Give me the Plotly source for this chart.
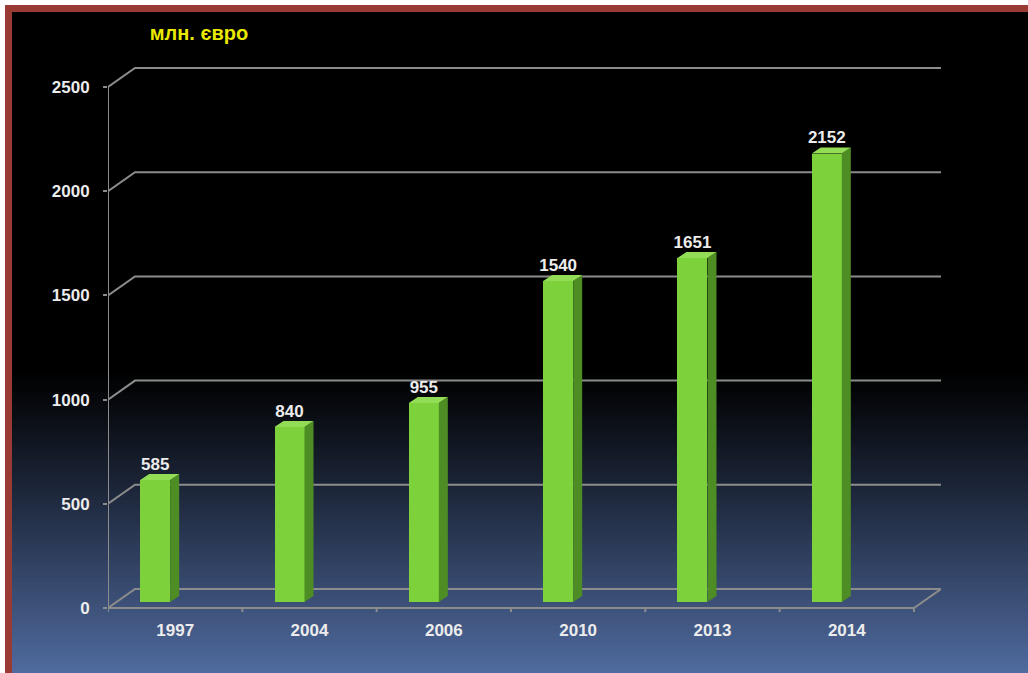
import plotly.graph_objects as go

# ---- data ----
years = ["1997", "2004", "2006", "2010", "2013", "2014"]
values = [585, 840, 955, 1540, 1651, 2152]
y_ticks = [0, 500, 1000, 1500, 2000, 2500]
title_text = "млн. євро"

# ---- geometry / style constants (pixel-derived) ----
W, H = 1028, 673
PX_X = 134.33            # px per category unit
PX_Y = 521 / 2500        # px per value unit
DX = 27 / PX_X           # wall depth offset (x)
DY = 19 / PX_Y           # wall depth offset (y)
BAR_BASE = 6 / PX_Y
BAR_SHIFT = -20 / PX_X
BAR_W = 30 / PX_X
SIDE_DX = 9 / PX_X
SIDE_DY = 6 / PX_Y

L_PX, R_PX, T_PX, B_PX = 108, 941, 60, 612
x_range = [-0.5, -0.5 + (R_PX - L_PX) / PX_X]
y_range = [-(B_PX - 608) / PX_Y, (608 - T_PX) / PX_Y]

FRONT = "#7DD23B"
SIDE = "#4E8C24"
TOP = "#93DC55"
GRID = "#8c8c8c"
FONT = "Liberation Sans, Arial, sans-serif"
TXT = "#ececec"

n = len(years)
fig = go.Figure()

shapes = []
def px_to_paper(px, py):
    return (px - L_PX) / (R_PX - L_PX), (B_PX - py) / (B_PX - T_PX)

# background gradient strips
g0, g1 = 370, 673
steps = 70
c0 = (0, 0, 0)
c1 = (80, 107, 160)
for k in range(steps):
    ya = g0 + (g1 - g0) * k / steps
    yb = g0 + (g1 - g0) * (k + 1) / steps + 1
    f = ((k + 0.5) / steps) ** 1.1
    col = "rgb(%d,%d,%d)" % tuple(round(c0[j] + (c1[j] - c0[j]) * f) for j in range(3))
    x0p, y0p = px_to_paper(0, ya)
    x1p, y1p = px_to_paper(W, yb)
    shapes.append(dict(type="rect", xref="paper", yref="paper", x0=x0p, x1=x1p, y0=y0p, y1=y1p,
                       fillcolor=col, line=dict(width=0), layer="below"))

def rect(px0, py0, px1, py1, col):
    a0, b0 = px_to_paper(px0, py0)
    a1, b1 = px_to_paper(px1, py1)
    return dict(type="rect", xref="paper", yref="paper", x0=a0, x1=a1, y0=b0, y1=b1,
                fillcolor=col, line=dict(width=0), layer="below")

shapes.append(rect(0, 0, W, 5, "white"))
shapes.append(rect(0, 0, 5, H, "white"))
shapes.append(rect(5, 5, W, 12, "#993a35"))
shapes.append(rect(5, 5, 12, H, "#993a35"))

# gridlines on back/left walls (below the bars)
def seg(xs, ys):
    path = "M " + " L ".join("%f,%f" % (a, b) for a, b in zip(xs, ys))
    shapes.append(dict(type="path", xref="x", yref="y", path=path,
                       line=dict(color=GRID, width=2), layer="below"))

for v in y_ticks:
    seg([-0.5, -0.5 + DX, n - 0.5 + DX], [v, v + DY, v + DY])
seg([-0.5, -0.5], [0, y_ticks[-1]])
seg([-0.5, n - 0.5, n - 0.5 + DX], [0, 0, DY])
for k in range(n + 1):
    seg([k - 0.5, k - 0.5], [0, -4 / PX_Y])

# bars: front faces
xc = [i + BAR_SHIFT for i in range(n)]
fig.add_trace(go.Bar(x=xc, y=values, base=[BAR_BASE] * n, width=BAR_W,
                     marker=dict(color=FRONT, line=dict(width=0)), showlegend=False))

# side and top faces
for i, v in enumerate(values):
    xl = xc[i] - BAR_W / 2
    xr = xc[i] + BAR_W / 2
    b = BAR_BASE
    t = BAR_BASE + v
    fig.add_trace(go.Scatter(
        x=[xr, xr + SIDE_DX, xr + SIDE_DX, xr, xr],
        y=[b, b + SIDE_DY, t + SIDE_DY, t, b],
        fill="toself", fillcolor=SIDE, mode="lines", line=dict(width=0, color=SIDE),
        hoverinfo="skip", showlegend=False))
    fig.add_trace(go.Scatter(
        x=[xl, xl + SIDE_DX, xr + SIDE_DX, xr, xl],
        y=[t, t + SIDE_DY, t + SIDE_DY, t, t],
        fill="toself", fillcolor=TOP, mode="lines", line=dict(width=0, color=TOP),
        hoverinfo="skip", showlegend=False))

# value labels
fig.add_trace(go.Scatter(
    x=xc, y=[BAR_BASE + v + SIDE_DY for v in values], mode="text",
    text=[str(v) for v in values], textposition="top center",
    textfont=dict(family=FONT, size=17, color=TXT, weight="bold"),
    hoverinfo="skip", showlegend=False, cliponaxis=False))

fig.update_layout(
    width=W, height=H,
    margin=dict(l=L_PX, r=W - R_PX, t=T_PX, b=H - B_PX, autoexpand=False),
    paper_bgcolor="black", plot_bgcolor="rgba(0,0,0,0)",
    shapes=shapes, bargap=0, barmode="overlay",
    title=dict(text=title_text, x=199 / W, y=1 - 33 / H, xref="container", yref="container",
               xanchor="center", yanchor="middle",
               font=dict(family=FONT, size=20, color="#e8e800", weight="bold")),
    xaxis=dict(range=x_range, tickvals=list(range(n)), ticktext=years, showgrid=False,
               zeroline=False, showline=False, ticks="", ticklabelstandoff=6,
               tickfont=dict(family=FONT, size=17, color=TXT, weight="bold"), fixedrange=True),
    yaxis=dict(range=y_range, tickvals=y_ticks, ticktext=[str(v) for v in y_ticks],
               showgrid=False, zeroline=False, showline=False, ticks="outside", ticklen=4,
               tickcolor=GRID, tickwidth=2, ticklabelstandoff=10,
               tickfont=dict(family=FONT, size=17, color=TXT, weight="bold"), fixedrange=True),
    showlegend=False,
)

fig.write_html("out.html")
